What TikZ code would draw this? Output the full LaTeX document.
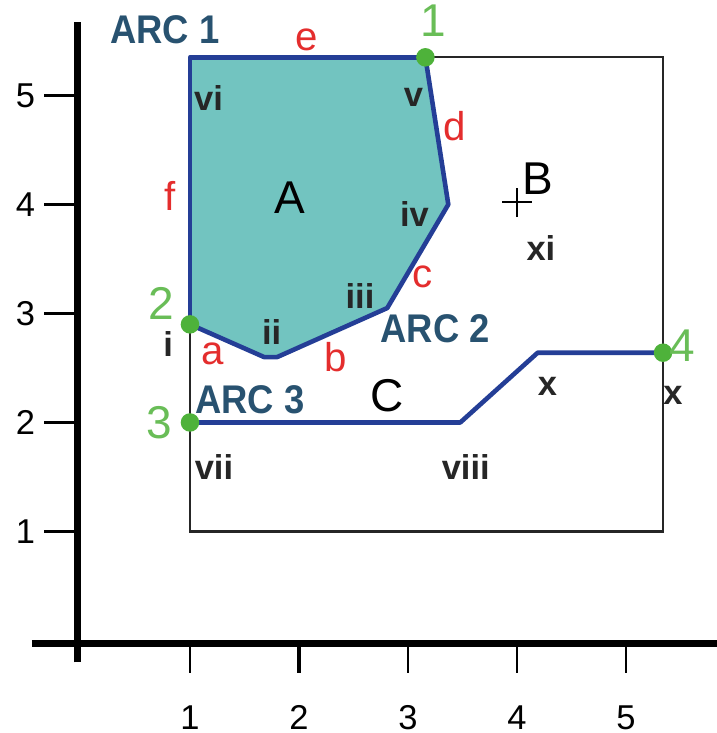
\documentclass[tikz,border=0pt]{standalone}
\usepackage{fontspec}
\setmainfont{Liberation Sans}
\usetikzlibrary{positioning}
\definecolor{lagoon}{RGB}{114,196,192}
\definecolor{arcblue}{RGB}{36,62,150}
\definecolor{slate}{RGB}{40,82,112}
\definecolor{grass}{RGB}{78,178,58}
\definecolor{scarlet}{RGB}{228,45,45}
\tikzset{
  axisline/.style={line width=1.7pt},
  tickline/.style={line width=0.6pt},
  frame/.style={draw=black!85,line width=0.6pt},
  arcpath/.style={draw=arcblue,line width=1.2pt,line join=round},
  junction/.style={circle,fill=grass,inner sep=0pt,minimum size=1.7mm},
  endno/.style={text=grass!85!white,font=\fontsize{12}{12}\selectfont},
  seglbl/.style={text=scarlet,font=\fontsize{10.5}{10.5}\selectfont},
  vtxlbl/.style={text=black!85,font=\bfseries\fontsize{9}{9}\selectfont},
  arclbl/.style={text=slate,font=\bfseries\fontsize{9.5}{9.5}\selectfont,yscale=1.1},
  regionlbl/.style={font=\fontsize{12}{12}\selectfont},
  numlbl/.style={font=\fontsize{9}{9}\selectfont},
}
\begin{document}
\begin{tikzpicture}
  \useasboundingbox (-0.743,-0.849) rectangle (5.835,5.876);
  % axes
  \draw[axisline] (-0.45,-0.03) -- (5.835,-0.03);
  \draw[axisline] (-0.03,-0.2) -- (-0.03,5.67);
  \foreach \k in {1,...,5} {
    \draw[tickline] (\k,-0.03) -- (\k,-0.3);
    \draw[tickline] (-0.03,\k) -- (-0.34,\k);
    \node[numlbl] (xl\k) at (\k,-0.71) {\k};
    \node[numlbl] (yl\k) at (-0.51,\k) {\k};
  }
  \draw[line width=1.2pt] (2,-0.03) -- (2,-0.3);
  \draw[frame] (1,1) rectangle (5.34,5.35);
  % junctions and bends
  \coordinate (j1) at (3.16,5.35);
  \coordinate (j2) at (1,2.9);
  \coordinate (j3) at (1,2);
  \coordinate (j4) at (5.34,2.64);
  \coordinate (tl) at (1,5.35);
  \coordinate (bd) at (3.37,4);
  \coordinate (bc) at (2.81,3.05);
  \coordinate (bb) at (1.80,2.6);
  \coordinate (ba) at (1.68,2.6);
  \coordinate (bx) at (3.48,2);
  \coordinate (by) at (4.19,2.64);
  \fill[lagoon] (j1) -- (bd) -- (bc) -- (bb) -- (ba) -- (j2) -- (tl) -- cycle;
  \draw[arcpath] (j2) -- (tl) -- (j1);
  \draw[arcpath] (j2) -- (ba) -- (bb) -- (bc) -- (bd) -- (j1);
  \draw[arcpath] (j3) -- (bx) -- (by) -- (j4);
  \foreach \j in {1,...,4} \node[junction] (dot\j) at (j\j) {};
  \draw[tickline] (3.865,4.02) -- (4.135,4.02) (4,3.885) -- (4,4.155);
  % labels
  \node[arclbl] (arc1) at (0.77,5.60) {ARC 1};
  \node[arclbl] (arc2) at (3.25,2.86) {ARC 2};
  \node[arclbl] (arc3) at (1.55,2.21) {ARC 3};
  \node[endno] (no1) at (3.23,5.69) {1};
  \node[endno] (no2) at (0.74,3.09) {2};
  \node[endno] (no3) at (0.72,2.0) {3};
  \node[endno] (no4) at (5.52,2.70) {4};
  \node[regionlbl] (ra) at (1.92,4.06) {A};
  \node[regionlbl] (rb) at (4.19,4.24) {B};
  \node[regionlbl] (rc) at (2.81,2.25) {C};
  \node[seglbl] (sa) at (1.21,2.63) {a};
  \node[seglbl] (sb) at (2.34,2.60) {b};
  \node[seglbl] (sc) at (3.13,3.34) {c};
  \node[seglbl] (sd) at (3.43,4.72) {d};
  \node[seglbl] (se) at (2.07,5.51) {e};
  \node[seglbl] (sf) at (0.82,4.08) {f};
  \node[vtxlbl] (v1) at (0.80,2.72) {i};
  \node[vtxlbl] (v2) at (1.75,2.83) {ii};
  \node[vtxlbl] (v3) at (2.56,3.16) {iii};
  \node[vtxlbl] (v4) at (3.06,3.91) {iv};
  \node[vtxlbl] (v5) at (3.05,4.98) {v};
  \node[vtxlbl] (v6) at (1.17,4.98) {vi};
  \node[vtxlbl] (v7) at (1.22,1.59) {vii};
  \node[vtxlbl] (v8) at (3.53,1.59) {viii};
  \node[vtxlbl] (v9) at (4.28,2.33) {x};
  \node[vtxlbl] (v10) at (5.43,2.25) {x};
  \node[vtxlbl] (v11) at (4.22,3.60) {xi};
\end{tikzpicture}
\end{document}
